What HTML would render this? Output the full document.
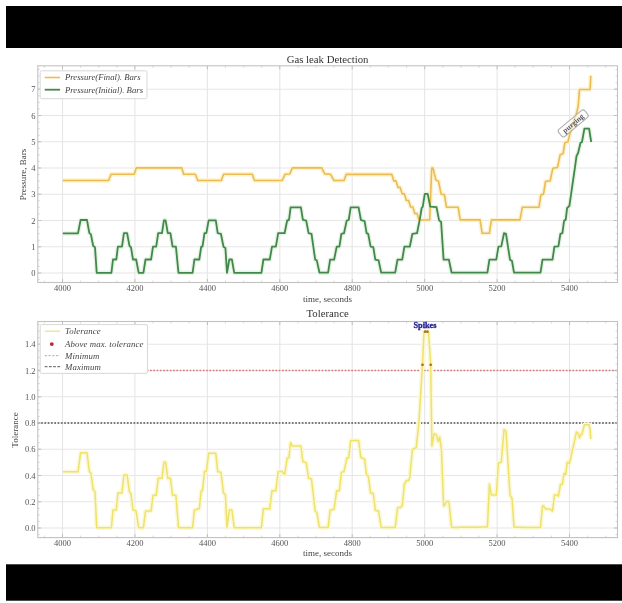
<!DOCTYPE html>
<html><head><meta charset="utf-8"><style>
html,body{margin:0;padding:0;background:#fff;}
svg{display:block;}
text{font-family:"Liberation Serif", serif;fill:#333;}
.grid{stroke:#e6e6e6;stroke-width:1.1;}
.frame{fill:none;stroke:#c2c2c2;stroke-width:1.1;}
.tick{stroke:#b4b4b4;stroke-width:0.8;}
.tickm{stroke:#c8c8c8;stroke-width:0.7;}
.orange{fill:none;stroke:#ebbc52;stroke-width:1.6;stroke-linejoin:round;}
.green{fill:none;stroke:#43884a;stroke-width:1.8;stroke-linejoin:round;}
.tol{fill:none;stroke:#efe26c;stroke-width:1.5;stroke-linejoin:round;}
.maxl{stroke:#555;stroke-width:1.4;stroke-dasharray:1.7 1.6;}
.minl{stroke:#d87878;stroke-width:1.3;stroke-dasharray:1.7 1.6;}
.minleg{stroke:#aaa;stroke-width:1.0;stroke-dasharray:2.2 1.6;}
.maxleg{stroke:#555;stroke-width:1.0;stroke-dasharray:2.8 1.4;}
.halo{fill:none;stroke-width:4.5;stroke-linejoin:round;}
.mk{fill:#c02828;}
.mk2{fill:#b07030;}
.legend{fill:#fff;stroke:#d8d8d8;stroke-width:1;}
.tl{font-size:8.5px;fill:#555;}
.title{font-size:10.75px;fill:#333;}
.al{font-size:9px;fill:#444;}
.lg{font-size:8.8px;font-style:italic;fill:#444;letter-spacing:0.1px;}
.lgt{font-size:8.7px;letter-spacing:0;}
.spk{font-size:8.3px;font-weight:bold;fill:#1c1c90;stroke:#1c1c90;stroke-width:0.3;}
.ann{fill:#fff;fill-opacity:0.5;stroke:#b0b0b0;stroke-width:1.1;}
.annt{font-size:7.5px;fill:#555;font-weight:bold;}
</style></head>
<body><svg width="622" height="603" viewBox="0 0 622 603">
<defs><filter id="bl" x="-5%" y="-5%" width="110%" height="110%"><feGaussianBlur stdDeviation="0.7"/></filter></defs>
<rect width="622" height="603" fill="#fff"/>
<g filter="url(#bl)">
<line x1="62.5" y1="65.8" x2="62.5" y2="282.5" class="grid"/>
<line x1="134.9" y1="65.8" x2="134.9" y2="282.5" class="grid"/>
<line x1="207.4" y1="65.8" x2="207.4" y2="282.5" class="grid"/>
<line x1="279.8" y1="65.8" x2="279.8" y2="282.5" class="grid"/>
<line x1="352.2" y1="65.8" x2="352.2" y2="282.5" class="grid"/>
<line x1="424.7" y1="65.8" x2="424.7" y2="282.5" class="grid"/>
<line x1="497.1" y1="65.8" x2="497.1" y2="282.5" class="grid"/>
<line x1="569.5" y1="65.8" x2="569.5" y2="282.5" class="grid"/>
<line x1="37.8" y1="273.0" x2="617.5" y2="273.0" class="grid"/>
<line x1="37.8" y1="246.8" x2="617.5" y2="246.8" class="grid"/>
<line x1="37.8" y1="220.5" x2="617.5" y2="220.5" class="grid"/>
<line x1="37.8" y1="194.2" x2="617.5" y2="194.2" class="grid"/>
<line x1="37.8" y1="168.0" x2="617.5" y2="168.0" class="grid"/>
<line x1="37.8" y1="141.8" x2="617.5" y2="141.8" class="grid"/>
<line x1="37.8" y1="115.5" x2="617.5" y2="115.5" class="grid"/>
<line x1="37.8" y1="89.2" x2="617.5" y2="89.2" class="grid"/>
<polyline points="62.8,180.5 108.6,180.5 111.1,174.3 134.3,174.3 136.2,167.9 181.8,167.9 183.7,174.3 195.3,174.3 197.8,180.5 221.3,180.5 223.6,174.3 252.2,174.3 254.5,180.5 282.1,180.5 285.0,174.3 289.8,174.0 292.3,167.9 321.8,167.9 324.7,173.9 330.5,174.3 334.0,180.5 344.0,180.5 346.3,174.3 391.8,174.4 393.8,180.9 396.0,180.9 398.0,187.4 400.2,187.4 402.2,193.9 404.4,193.9 406.4,200.5 408.6,200.5 410.6,207.0 412.8,207.0 414.8,213.5 417.0,213.5 419.0,220.0 421.6,220.0 429.7,220.0 431.7,168.0 433.0,168.0 435.8,179.9 438.5,181.2 441.1,194.2 444.4,194.5 446.4,207.1 458.2,207.3 460.2,219.9 480.1,219.9 482.1,233.2 489.4,233.2 491.4,219.9 520.0,219.9 522.3,207.3 538.9,207.3 540.9,194.7 543.5,194.1 545.5,181.5 550.2,180.8 552.8,168.2 557.5,167.5 560.1,154.9 563.1,153.5 564.9,142.5 567.9,142.0 571.0,129.4 574.0,120.0 576.0,115.5 578.2,106.0 579.5,89.5 590.1,89.5 590.8,75.6" class="halo" style="stroke:#fbf3d2"/>
<polyline points="62.8,233.4 78.0,233.4 80.6,220.0 87.0,220.0 89.3,232.9 90.9,234.4 93.2,246.0 95.0,247.3 96.7,272.8 111.4,272.8 113.0,259.5 116.3,259.5 117.9,246.7 122.0,246.7 123.9,233.2 127.1,233.2 129.5,246.0 131.0,247.3 133.0,259.5 136.1,259.5 138.7,272.8 143.4,272.8 145.5,259.5 151.1,259.5 153.0,246.7 156.2,246.7 158.2,233.2 162.0,233.2 163.9,220.3 165.6,220.3 167.8,233.2 170.4,233.2 172.6,246.7 175.9,246.7 178.5,272.8 192.6,272.8 194.4,259.5 199.3,259.5 201.2,246.7 202.5,246.7 204.5,233.2 206.4,233.2 208.6,220.3 215.8,220.3 217.7,233.2 220.9,233.8 223.5,246.7 225.4,248.0 227.0,272.8 229.3,259.5 231.9,259.5 234.2,272.8 261.4,272.8 263.4,259.5 269.8,259.5 272.0,246.7 275.9,246.7 278.2,233.2 284.6,233.2 287.2,220.3 289.0,220.0 290.6,207.3 300.9,207.3 302.9,219.9 306.2,220.6 308.6,233.2 311.5,233.8 315.2,259.7 316.8,260.4 319.5,272.7 328.1,272.7 330.1,259.7 334.1,259.7 336.7,246.7 339.4,246.7 341.4,233.8 344.0,233.2 346.7,220.6 348.7,220.0 350.7,207.3 358.6,207.3 360.9,220.0 364.6,221.2 366.6,233.2 368.2,233.8 370.6,246.7 373.3,247.1 375.3,259.7 378.6,260.4 381.2,272.7 395.2,272.7 397.5,259.7 402.2,259.7 404.4,246.7 409.8,246.7 412.4,233.8 417.0,233.2 419.7,219.9 421.7,208.0 422.8,206.7 424.8,193.8 427.7,193.8 430.2,206.7 436.5,207.1 439.1,220.4 441.1,221.7 443.6,259.7 448.9,259.7 451.6,272.7 487.4,272.7 489.4,259.7 496.3,259.7 498.4,246.7 501.3,246.4 504.0,233.2 506.0,233.8 510.0,259.7 512.0,261.0 514.0,272.7 540.5,272.7 542.5,259.7 552.5,259.7 554.4,246.7 558.4,246.4 560.4,233.8 562.4,233.2 564.1,220.6 565.7,219.9 567.1,208.2 569.4,205.8 575.0,167.2 576.5,156.2 578.1,153.0 580.5,142.8 582.0,142.0 584.4,128.7 589.1,128.7 591.2,142.0" class="halo" style="stroke:#e6f3e6"/>
<polyline points="62.8,180.5 108.6,180.5 111.1,174.3 134.3,174.3 136.2,167.9 181.8,167.9 183.7,174.3 195.3,174.3 197.8,180.5 221.3,180.5 223.6,174.3 252.2,174.3 254.5,180.5 282.1,180.5 285.0,174.3 289.8,174.0 292.3,167.9 321.8,167.9 324.7,173.9 330.5,174.3 334.0,180.5 344.0,180.5 346.3,174.3 391.8,174.4 393.8,180.9 396.0,180.9 398.0,187.4 400.2,187.4 402.2,193.9 404.4,193.9 406.4,200.5 408.6,200.5 410.6,207.0 412.8,207.0 414.8,213.5 417.0,213.5 419.0,220.0 421.6,220.0 429.7,220.0 431.7,168.0 433.0,168.0 435.8,179.9 438.5,181.2 441.1,194.2 444.4,194.5 446.4,207.1 458.2,207.3 460.2,219.9 480.1,219.9 482.1,233.2 489.4,233.2 491.4,219.9 520.0,219.9 522.3,207.3 538.9,207.3 540.9,194.7 543.5,194.1 545.5,181.5 550.2,180.8 552.8,168.2 557.5,167.5 560.1,154.9 563.1,153.5 564.9,142.5 567.9,142.0 571.0,129.4 574.0,120.0 576.0,115.5 578.2,106.0 579.5,89.5 590.1,89.5 590.8,75.6" class="orange"/>
<polyline points="62.8,233.4 78.0,233.4 80.6,220.0 87.0,220.0 89.3,232.9 90.9,234.4 93.2,246.0 95.0,247.3 96.7,272.8 111.4,272.8 113.0,259.5 116.3,259.5 117.9,246.7 122.0,246.7 123.9,233.2 127.1,233.2 129.5,246.0 131.0,247.3 133.0,259.5 136.1,259.5 138.7,272.8 143.4,272.8 145.5,259.5 151.1,259.5 153.0,246.7 156.2,246.7 158.2,233.2 162.0,233.2 163.9,220.3 165.6,220.3 167.8,233.2 170.4,233.2 172.6,246.7 175.9,246.7 178.5,272.8 192.6,272.8 194.4,259.5 199.3,259.5 201.2,246.7 202.5,246.7 204.5,233.2 206.4,233.2 208.6,220.3 215.8,220.3 217.7,233.2 220.9,233.8 223.5,246.7 225.4,248.0 227.0,272.8 229.3,259.5 231.9,259.5 234.2,272.8 261.4,272.8 263.4,259.5 269.8,259.5 272.0,246.7 275.9,246.7 278.2,233.2 284.6,233.2 287.2,220.3 289.0,220.0 290.6,207.3 300.9,207.3 302.9,219.9 306.2,220.6 308.6,233.2 311.5,233.8 315.2,259.7 316.8,260.4 319.5,272.7 328.1,272.7 330.1,259.7 334.1,259.7 336.7,246.7 339.4,246.7 341.4,233.8 344.0,233.2 346.7,220.6 348.7,220.0 350.7,207.3 358.6,207.3 360.9,220.0 364.6,221.2 366.6,233.2 368.2,233.8 370.6,246.7 373.3,247.1 375.3,259.7 378.6,260.4 381.2,272.7 395.2,272.7 397.5,259.7 402.2,259.7 404.4,246.7 409.8,246.7 412.4,233.8 417.0,233.2 419.7,219.9 421.7,208.0 422.8,206.7 424.8,193.8 427.7,193.8 430.2,206.7 436.5,207.1 439.1,220.4 441.1,221.7 443.6,259.7 448.9,259.7 451.6,272.7 487.4,272.7 489.4,259.7 496.3,259.7 498.4,246.7 501.3,246.4 504.0,233.2 506.0,233.8 510.0,259.7 512.0,261.0 514.0,272.7 540.5,272.7 542.5,259.7 552.5,259.7 554.4,246.7 558.4,246.4 560.4,233.8 562.4,233.2 564.1,220.6 565.7,219.9 567.1,208.2 569.4,205.8 575.0,167.2 576.5,156.2 578.1,153.0 580.5,142.8 582.0,142.0 584.4,128.7 589.1,128.7 591.2,142.0" class="green"/>
<line x1="62.5" y1="282.5" x2="62.5" y2="279.0" class="tick"/>
<line x1="62.5" y1="65.8" x2="62.5" y2="69.3" class="tick"/>
<line x1="134.9" y1="282.5" x2="134.9" y2="279.0" class="tick"/>
<line x1="134.9" y1="65.8" x2="134.9" y2="69.3" class="tick"/>
<line x1="207.4" y1="282.5" x2="207.4" y2="279.0" class="tick"/>
<line x1="207.4" y1="65.8" x2="207.4" y2="69.3" class="tick"/>
<line x1="279.8" y1="282.5" x2="279.8" y2="279.0" class="tick"/>
<line x1="279.8" y1="65.8" x2="279.8" y2="69.3" class="tick"/>
<line x1="352.2" y1="282.5" x2="352.2" y2="279.0" class="tick"/>
<line x1="352.2" y1="65.8" x2="352.2" y2="69.3" class="tick"/>
<line x1="424.7" y1="282.5" x2="424.7" y2="279.0" class="tick"/>
<line x1="424.7" y1="65.8" x2="424.7" y2="69.3" class="tick"/>
<line x1="497.1" y1="282.5" x2="497.1" y2="279.0" class="tick"/>
<line x1="497.1" y1="65.8" x2="497.1" y2="69.3" class="tick"/>
<line x1="569.5" y1="282.5" x2="569.5" y2="279.0" class="tick"/>
<line x1="569.5" y1="65.8" x2="569.5" y2="69.3" class="tick"/>
<line x1="44.4" y1="282.5" x2="44.4" y2="280.5" class="tickm"/>
<line x1="44.4" y1="65.8" x2="44.4" y2="67.8" class="tickm"/>
<line x1="80.6" y1="282.5" x2="80.6" y2="280.5" class="tickm"/>
<line x1="80.6" y1="65.8" x2="80.6" y2="67.8" class="tickm"/>
<line x1="98.7" y1="282.5" x2="98.7" y2="280.5" class="tickm"/>
<line x1="98.7" y1="65.8" x2="98.7" y2="67.8" class="tickm"/>
<line x1="116.8" y1="282.5" x2="116.8" y2="280.5" class="tickm"/>
<line x1="116.8" y1="65.8" x2="116.8" y2="67.8" class="tickm"/>
<line x1="153.0" y1="282.5" x2="153.0" y2="280.5" class="tickm"/>
<line x1="153.0" y1="65.8" x2="153.0" y2="67.8" class="tickm"/>
<line x1="171.1" y1="282.5" x2="171.1" y2="280.5" class="tickm"/>
<line x1="171.1" y1="65.8" x2="171.1" y2="67.8" class="tickm"/>
<line x1="189.3" y1="282.5" x2="189.3" y2="280.5" class="tickm"/>
<line x1="189.3" y1="65.8" x2="189.3" y2="67.8" class="tickm"/>
<line x1="225.5" y1="282.5" x2="225.5" y2="280.5" class="tickm"/>
<line x1="225.5" y1="65.8" x2="225.5" y2="67.8" class="tickm"/>
<line x1="243.6" y1="282.5" x2="243.6" y2="280.5" class="tickm"/>
<line x1="243.6" y1="65.8" x2="243.6" y2="67.8" class="tickm"/>
<line x1="261.7" y1="282.5" x2="261.7" y2="280.5" class="tickm"/>
<line x1="261.7" y1="65.8" x2="261.7" y2="67.8" class="tickm"/>
<line x1="297.9" y1="282.5" x2="297.9" y2="280.5" class="tickm"/>
<line x1="297.9" y1="65.8" x2="297.9" y2="67.8" class="tickm"/>
<line x1="316.0" y1="282.5" x2="316.0" y2="280.5" class="tickm"/>
<line x1="316.0" y1="65.8" x2="316.0" y2="67.8" class="tickm"/>
<line x1="334.1" y1="282.5" x2="334.1" y2="280.5" class="tickm"/>
<line x1="334.1" y1="65.8" x2="334.1" y2="67.8" class="tickm"/>
<line x1="370.3" y1="282.5" x2="370.3" y2="280.5" class="tickm"/>
<line x1="370.3" y1="65.8" x2="370.3" y2="67.8" class="tickm"/>
<line x1="388.4" y1="282.5" x2="388.4" y2="280.5" class="tickm"/>
<line x1="388.4" y1="65.8" x2="388.4" y2="67.8" class="tickm"/>
<line x1="406.5" y1="282.5" x2="406.5" y2="280.5" class="tickm"/>
<line x1="406.5" y1="65.8" x2="406.5" y2="67.8" class="tickm"/>
<line x1="442.8" y1="282.5" x2="442.8" y2="280.5" class="tickm"/>
<line x1="442.8" y1="65.8" x2="442.8" y2="67.8" class="tickm"/>
<line x1="460.9" y1="282.5" x2="460.9" y2="280.5" class="tickm"/>
<line x1="460.9" y1="65.8" x2="460.9" y2="67.8" class="tickm"/>
<line x1="479.0" y1="282.5" x2="479.0" y2="280.5" class="tickm"/>
<line x1="479.0" y1="65.8" x2="479.0" y2="67.8" class="tickm"/>
<line x1="515.2" y1="282.5" x2="515.2" y2="280.5" class="tickm"/>
<line x1="515.2" y1="65.8" x2="515.2" y2="67.8" class="tickm"/>
<line x1="533.3" y1="282.5" x2="533.3" y2="280.5" class="tickm"/>
<line x1="533.3" y1="65.8" x2="533.3" y2="67.8" class="tickm"/>
<line x1="551.4" y1="282.5" x2="551.4" y2="280.5" class="tickm"/>
<line x1="551.4" y1="65.8" x2="551.4" y2="67.8" class="tickm"/>
<line x1="587.6" y1="282.5" x2="587.6" y2="280.5" class="tickm"/>
<line x1="587.6" y1="65.8" x2="587.6" y2="67.8" class="tickm"/>
<line x1="605.7" y1="282.5" x2="605.7" y2="280.5" class="tickm"/>
<line x1="605.7" y1="65.8" x2="605.7" y2="67.8" class="tickm"/>
<line x1="37.8" y1="273.0" x2="41.3" y2="273.0" class="tick"/>
<line x1="617.5" y1="273.0" x2="614.0" y2="273.0" class="tick"/>
<line x1="37.8" y1="246.8" x2="41.3" y2="246.8" class="tick"/>
<line x1="617.5" y1="246.8" x2="614.0" y2="246.8" class="tick"/>
<line x1="37.8" y1="220.5" x2="41.3" y2="220.5" class="tick"/>
<line x1="617.5" y1="220.5" x2="614.0" y2="220.5" class="tick"/>
<line x1="37.8" y1="194.2" x2="41.3" y2="194.2" class="tick"/>
<line x1="617.5" y1="194.2" x2="614.0" y2="194.2" class="tick"/>
<line x1="37.8" y1="168.0" x2="41.3" y2="168.0" class="tick"/>
<line x1="617.5" y1="168.0" x2="614.0" y2="168.0" class="tick"/>
<line x1="37.8" y1="141.8" x2="41.3" y2="141.8" class="tick"/>
<line x1="617.5" y1="141.8" x2="614.0" y2="141.8" class="tick"/>
<line x1="37.8" y1="115.5" x2="41.3" y2="115.5" class="tick"/>
<line x1="617.5" y1="115.5" x2="614.0" y2="115.5" class="tick"/>
<line x1="37.8" y1="89.2" x2="41.3" y2="89.2" class="tick"/>
<line x1="617.5" y1="89.2" x2="614.0" y2="89.2" class="tick"/>
<line x1="37.8" y1="279.6" x2="39.8" y2="279.6" class="tickm"/>
<line x1="617.5" y1="279.6" x2="615.5" y2="279.6" class="tickm"/>
<line x1="37.8" y1="273.0" x2="39.8" y2="273.0" class="tickm"/>
<line x1="617.5" y1="273.0" x2="615.5" y2="273.0" class="tickm"/>
<line x1="37.8" y1="266.4" x2="39.8" y2="266.4" class="tickm"/>
<line x1="617.5" y1="266.4" x2="615.5" y2="266.4" class="tickm"/>
<line x1="37.8" y1="259.9" x2="39.8" y2="259.9" class="tickm"/>
<line x1="617.5" y1="259.9" x2="615.5" y2="259.9" class="tickm"/>
<line x1="37.8" y1="253.3" x2="39.8" y2="253.3" class="tickm"/>
<line x1="617.5" y1="253.3" x2="615.5" y2="253.3" class="tickm"/>
<line x1="37.8" y1="246.8" x2="39.8" y2="246.8" class="tickm"/>
<line x1="617.5" y1="246.8" x2="615.5" y2="246.8" class="tickm"/>
<line x1="37.8" y1="240.2" x2="39.8" y2="240.2" class="tickm"/>
<line x1="617.5" y1="240.2" x2="615.5" y2="240.2" class="tickm"/>
<line x1="37.8" y1="233.6" x2="39.8" y2="233.6" class="tickm"/>
<line x1="617.5" y1="233.6" x2="615.5" y2="233.6" class="tickm"/>
<line x1="37.8" y1="227.1" x2="39.8" y2="227.1" class="tickm"/>
<line x1="617.5" y1="227.1" x2="615.5" y2="227.1" class="tickm"/>
<line x1="37.8" y1="220.5" x2="39.8" y2="220.5" class="tickm"/>
<line x1="617.5" y1="220.5" x2="615.5" y2="220.5" class="tickm"/>
<line x1="37.8" y1="213.9" x2="39.8" y2="213.9" class="tickm"/>
<line x1="617.5" y1="213.9" x2="615.5" y2="213.9" class="tickm"/>
<line x1="37.8" y1="207.4" x2="39.8" y2="207.4" class="tickm"/>
<line x1="617.5" y1="207.4" x2="615.5" y2="207.4" class="tickm"/>
<line x1="37.8" y1="200.8" x2="39.8" y2="200.8" class="tickm"/>
<line x1="617.5" y1="200.8" x2="615.5" y2="200.8" class="tickm"/>
<line x1="37.8" y1="194.2" x2="39.8" y2="194.2" class="tickm"/>
<line x1="617.5" y1="194.2" x2="615.5" y2="194.2" class="tickm"/>
<line x1="37.8" y1="187.7" x2="39.8" y2="187.7" class="tickm"/>
<line x1="617.5" y1="187.7" x2="615.5" y2="187.7" class="tickm"/>
<line x1="37.8" y1="181.1" x2="39.8" y2="181.1" class="tickm"/>
<line x1="617.5" y1="181.1" x2="615.5" y2="181.1" class="tickm"/>
<line x1="37.8" y1="174.6" x2="39.8" y2="174.6" class="tickm"/>
<line x1="617.5" y1="174.6" x2="615.5" y2="174.6" class="tickm"/>
<line x1="37.8" y1="168.0" x2="39.8" y2="168.0" class="tickm"/>
<line x1="617.5" y1="168.0" x2="615.5" y2="168.0" class="tickm"/>
<line x1="37.8" y1="161.4" x2="39.8" y2="161.4" class="tickm"/>
<line x1="617.5" y1="161.4" x2="615.5" y2="161.4" class="tickm"/>
<line x1="37.8" y1="154.9" x2="39.8" y2="154.9" class="tickm"/>
<line x1="617.5" y1="154.9" x2="615.5" y2="154.9" class="tickm"/>
<line x1="37.8" y1="148.3" x2="39.8" y2="148.3" class="tickm"/>
<line x1="617.5" y1="148.3" x2="615.5" y2="148.3" class="tickm"/>
<line x1="37.8" y1="141.8" x2="39.8" y2="141.8" class="tickm"/>
<line x1="617.5" y1="141.8" x2="615.5" y2="141.8" class="tickm"/>
<line x1="37.8" y1="135.2" x2="39.8" y2="135.2" class="tickm"/>
<line x1="617.5" y1="135.2" x2="615.5" y2="135.2" class="tickm"/>
<line x1="37.8" y1="128.6" x2="39.8" y2="128.6" class="tickm"/>
<line x1="617.5" y1="128.6" x2="615.5" y2="128.6" class="tickm"/>
<line x1="37.8" y1="122.1" x2="39.8" y2="122.1" class="tickm"/>
<line x1="617.5" y1="122.1" x2="615.5" y2="122.1" class="tickm"/>
<line x1="37.8" y1="115.5" x2="39.8" y2="115.5" class="tickm"/>
<line x1="617.5" y1="115.5" x2="615.5" y2="115.5" class="tickm"/>
<line x1="37.8" y1="108.9" x2="39.8" y2="108.9" class="tickm"/>
<line x1="617.5" y1="108.9" x2="615.5" y2="108.9" class="tickm"/>
<line x1="37.8" y1="102.4" x2="39.8" y2="102.4" class="tickm"/>
<line x1="617.5" y1="102.4" x2="615.5" y2="102.4" class="tickm"/>
<line x1="37.8" y1="95.8" x2="39.8" y2="95.8" class="tickm"/>
<line x1="617.5" y1="95.8" x2="615.5" y2="95.8" class="tickm"/>
<line x1="37.8" y1="89.2" x2="39.8" y2="89.2" class="tickm"/>
<line x1="617.5" y1="89.2" x2="615.5" y2="89.2" class="tickm"/>
<line x1="37.8" y1="82.7" x2="39.8" y2="82.7" class="tickm"/>
<line x1="617.5" y1="82.7" x2="615.5" y2="82.7" class="tickm"/>
<line x1="37.8" y1="76.1" x2="39.8" y2="76.1" class="tickm"/>
<line x1="617.5" y1="76.1" x2="615.5" y2="76.1" class="tickm"/>
<line x1="37.8" y1="69.6" x2="39.8" y2="69.6" class="tickm"/>
<line x1="617.5" y1="69.6" x2="615.5" y2="69.6" class="tickm"/>
<rect x="37.8" y="65.8" width="579.7" height="216.7" class="frame"/>
<text x="35.6" y="276.0" class="tl" text-anchor="end">0</text>
<text x="35.6" y="249.8" class="tl" text-anchor="end">1</text>
<text x="35.6" y="223.5" class="tl" text-anchor="end">2</text>
<text x="35.6" y="197.2" class="tl" text-anchor="end">3</text>
<text x="35.6" y="171.0" class="tl" text-anchor="end">4</text>
<text x="35.6" y="144.8" class="tl" text-anchor="end">5</text>
<text x="35.6" y="118.5" class="tl" text-anchor="end">6</text>
<text x="35.6" y="92.2" class="tl" text-anchor="end">7</text>
<text x="62.5" y="291.1" class="tl" text-anchor="middle">4000</text>
<text x="134.9" y="291.1" class="tl" text-anchor="middle">4200</text>
<text x="207.4" y="291.1" class="tl" text-anchor="middle">4400</text>
<text x="279.8" y="291.1" class="tl" text-anchor="middle">4600</text>
<text x="352.2" y="291.1" class="tl" text-anchor="middle">4800</text>
<text x="424.7" y="291.1" class="tl" text-anchor="middle">5000</text>
<text x="497.1" y="291.1" class="tl" text-anchor="middle">5200</text>
<text x="569.5" y="291.1" class="tl" text-anchor="middle">5400</text>
<text x="327.6" y="62.8" class="title" text-anchor="middle">Gas leak Detection</text>
<text x="327.6" y="301.6" class="al" text-anchor="middle">time, seconds</text>
<text transform="translate(25.6,174.5) rotate(-90)" class="al" text-anchor="middle">Pressure, Bars</text>
<rect x="40.2" y="70.8" width="106.8" height="27.9" rx="1.5" class="legend"/>
<line x1="44.7" y1="77.5" x2="60.1" y2="77.5" class="orange"/>
<line x1="44.7" y1="89.7" x2="60.1" y2="89.7" class="green"/>
<text x="65" y="80.3" class="lg lgt">Pressure(Final). Bars</text>
<text x="65" y="92.5" class="lg lgt">Pressure(Initial). Bars</text>
<g transform="translate(573.2,123.4) rotate(-40)"><rect x="-17" y="-4.6" width="34" height="9.2" rx="2.5" class="ann"/><text x="0" y="2.4" class="annt" text-anchor="middle">purging</text></g>
<line x1="62.5" y1="321.5" x2="62.5" y2="537.6" class="grid"/>
<line x1="134.9" y1="321.5" x2="134.9" y2="537.6" class="grid"/>
<line x1="207.4" y1="321.5" x2="207.4" y2="537.6" class="grid"/>
<line x1="279.8" y1="321.5" x2="279.8" y2="537.6" class="grid"/>
<line x1="352.2" y1="321.5" x2="352.2" y2="537.6" class="grid"/>
<line x1="424.7" y1="321.5" x2="424.7" y2="537.6" class="grid"/>
<line x1="497.1" y1="321.5" x2="497.1" y2="537.6" class="grid"/>
<line x1="569.5" y1="321.5" x2="569.5" y2="537.6" class="grid"/>
<line x1="37.8" y1="528.0" x2="617.5" y2="528.0" class="grid"/>
<line x1="37.8" y1="501.8" x2="617.5" y2="501.8" class="grid"/>
<line x1="37.8" y1="475.5" x2="617.5" y2="475.5" class="grid"/>
<line x1="37.8" y1="449.2" x2="617.5" y2="449.2" class="grid"/>
<line x1="37.8" y1="423.0" x2="617.5" y2="423.0" class="grid"/>
<line x1="37.8" y1="396.8" x2="617.5" y2="396.8" class="grid"/>
<line x1="37.8" y1="370.5" x2="617.5" y2="370.5" class="grid"/>
<line x1="37.8" y1="344.2" x2="617.5" y2="344.2" class="grid"/>
<line x1="37.8" y1="423.0" x2="617.5" y2="423.0" class="maxl"/>
<line x1="37.8" y1="370.5" x2="617.5" y2="370.5" class="minl"/>
<polyline points="62.8,471.8 78.0,471.8 80.6,452.8 87.0,452.8 89.3,471.1 90.9,473.2 93.2,489.7 95.0,491.5 96.7,527.7 108.6,527.7 111.1,527.7 111.4,527.7 113.0,510.0 116.3,510.0 117.9,493.0 122.0,493.0 123.9,475.1 127.1,475.1 129.5,492.1 131.0,493.8 133.0,510.0 134.3,510.0 136.1,511.1 136.2,511.8 138.7,527.8 143.4,527.8 145.5,511.1 151.1,511.1 153.0,495.2 156.2,495.2 158.2,478.3 162.0,478.3 163.9,462.2 165.6,462.2 167.8,478.3 170.4,478.3 172.6,495.2 175.9,495.2 178.5,527.8 181.8,527.8 183.7,527.7 192.6,527.7 194.4,510.0 195.3,510.0 197.8,508.8 199.3,508.8 201.2,490.7 202.5,490.7 204.5,471.5 206.4,471.5 208.6,453.2 215.8,453.2 217.7,471.5 220.9,472.4 221.3,475.2 223.5,492.9 223.6,493.1 225.4,494.8 227.0,527.7 229.3,510.0 231.9,510.0 234.2,527.7 252.2,527.7 254.5,527.7 261.4,527.7 263.4,508.8 269.8,508.8 272.0,490.7 275.9,490.7 278.2,471.5 282.1,471.5 284.6,474.6 285.0,472.4 287.2,458.0 289.0,457.7 289.8,449.3 290.6,442.6 292.3,446.0 300.9,446.0 302.9,461.7 306.2,462.6 308.6,478.3 311.5,479.0 315.2,511.4 316.8,512.3 319.5,527.6 321.8,527.6 324.7,527.6 328.1,527.6 330.1,510.3 330.5,510.3 334.0,509.1 334.1,509.1 336.7,490.7 339.4,490.7 341.4,472.4 344.0,471.5 346.3,460.8 346.7,458.3 348.7,457.5 350.7,440.6 358.6,440.6 360.9,457.5 364.6,459.1 366.6,475.1 368.2,475.8 370.6,493.0 373.3,493.5 375.3,510.3 378.6,511.2 381.2,527.6 391.8,527.6 393.8,527.6 395.2,527.6 396.0,521.1 397.5,508.0 398.0,507.6 400.2,507.6 402.2,505.9 404.4,484.4 406.4,480.4 408.6,480.4 409.8,477.7 410.6,467.8 412.4,450.0 412.8,449.2 416.2,447.7 418.9,422.4 422.5,364.8 424.0,331.7 428.5,331.7 430.7,364.8 431.9,445.9 434.1,433.6 436.3,434.7 438.1,441.4 439.7,436.9 441.5,450.4 443.6,505.8 444.4,505.8 446.4,501.5 448.9,501.5 451.6,527.4 458.2,527.4 460.2,527.3 480.1,527.3 482.1,527.0 487.4,527.0 489.4,484.1 491.4,495.1 496.3,495.1 498.4,463.0 501.3,462.3 504.0,429.6 506.0,431.1 510.0,495.1 512.0,498.3 514.0,527.3 520.0,527.3 522.3,527.4 538.9,527.4 540.5,527.5 540.9,523.1 542.5,505.8 543.5,505.9 545.5,508.9 550.2,509.1 552.5,511.1 552.8,508.8 554.4,495.1 557.5,495.0 558.4,496.2 560.1,486.5 560.4,484.5 562.4,484.2 563.1,478.6 564.1,473.2 564.9,474.9 565.7,474.6 567.1,463.0 567.9,462.2 569.4,463.7 571.0,456.5 574.0,443.2 575.0,438.6 576.0,433.7 576.5,432.0 578.1,433.4 578.2,433.4 579.5,437.9 580.5,434.9 582.0,434.3 584.4,424.8 589.1,424.8 590.1,429.3 590.8,439.2" class="halo" style="stroke:#fbf8d6"/>
<polyline points="62.8,471.8 78.0,471.8 80.6,452.8 87.0,452.8 89.3,471.1 90.9,473.2 93.2,489.7 95.0,491.5 96.7,527.7 108.6,527.7 111.1,527.7 111.4,527.7 113.0,510.0 116.3,510.0 117.9,493.0 122.0,493.0 123.9,475.1 127.1,475.1 129.5,492.1 131.0,493.8 133.0,510.0 134.3,510.0 136.1,511.1 136.2,511.8 138.7,527.8 143.4,527.8 145.5,511.1 151.1,511.1 153.0,495.2 156.2,495.2 158.2,478.3 162.0,478.3 163.9,462.2 165.6,462.2 167.8,478.3 170.4,478.3 172.6,495.2 175.9,495.2 178.5,527.8 181.8,527.8 183.7,527.7 192.6,527.7 194.4,510.0 195.3,510.0 197.8,508.8 199.3,508.8 201.2,490.7 202.5,490.7 204.5,471.5 206.4,471.5 208.6,453.2 215.8,453.2 217.7,471.5 220.9,472.4 221.3,475.2 223.5,492.9 223.6,493.1 225.4,494.8 227.0,527.7 229.3,510.0 231.9,510.0 234.2,527.7 252.2,527.7 254.5,527.7 261.4,527.7 263.4,508.8 269.8,508.8 272.0,490.7 275.9,490.7 278.2,471.5 282.1,471.5 284.6,474.6 285.0,472.4 287.2,458.0 289.0,457.7 289.8,449.3 290.6,442.6 292.3,446.0 300.9,446.0 302.9,461.7 306.2,462.6 308.6,478.3 311.5,479.0 315.2,511.4 316.8,512.3 319.5,527.6 321.8,527.6 324.7,527.6 328.1,527.6 330.1,510.3 330.5,510.3 334.0,509.1 334.1,509.1 336.7,490.7 339.4,490.7 341.4,472.4 344.0,471.5 346.3,460.8 346.7,458.3 348.7,457.5 350.7,440.6 358.6,440.6 360.9,457.5 364.6,459.1 366.6,475.1 368.2,475.8 370.6,493.0 373.3,493.5 375.3,510.3 378.6,511.2 381.2,527.6 391.8,527.6 393.8,527.6 395.2,527.6 396.0,521.1 397.5,508.0 398.0,507.6 400.2,507.6 402.2,505.9 404.4,484.4 406.4,480.4 408.6,480.4 409.8,477.7 410.6,467.8 412.4,450.0 412.8,449.2 416.2,447.7 418.9,422.4 422.5,364.8 424.0,331.7 428.5,331.7 430.7,364.8 431.9,445.9 434.1,433.6 436.3,434.7 438.1,441.4 439.7,436.9 441.5,450.4 443.6,505.8 444.4,505.8 446.4,501.5 448.9,501.5 451.6,527.4 458.2,527.4 460.2,527.3 480.1,527.3 482.1,527.0 487.4,527.0 489.4,484.1 491.4,495.1 496.3,495.1 498.4,463.0 501.3,462.3 504.0,429.6 506.0,431.1 510.0,495.1 512.0,498.3 514.0,527.3 520.0,527.3 522.3,527.4 538.9,527.4 540.5,527.5 540.9,523.1 542.5,505.8 543.5,505.9 545.5,508.9 550.2,509.1 552.5,511.1 552.8,508.8 554.4,495.1 557.5,495.0 558.4,496.2 560.1,486.5 560.4,484.5 562.4,484.2 563.1,478.6 564.1,473.2 564.9,474.9 565.7,474.6 567.1,463.0 567.9,462.2 569.4,463.7 571.0,456.5 574.0,443.2 575.0,438.6 576.0,433.7 576.5,432.0 578.1,433.4 578.2,433.4 579.5,437.9 580.5,434.9 582.0,434.3 584.4,424.8 589.1,424.8 590.1,429.3 590.8,439.2" class="tol"/>
<circle cx="422.5" cy="364.8" r="1.4" class="mk2"/>
<circle cx="425.2" cy="331.7" r="1.4" class="mk2"/>
<circle cx="427.4" cy="331.7" r="1.4" class="mk2"/>
<circle cx="430.7" cy="364.8" r="1.4" class="mk2"/>
<line x1="62.5" y1="537.6" x2="62.5" y2="534.1" class="tick"/>
<line x1="62.5" y1="321.5" x2="62.5" y2="325.0" class="tick"/>
<line x1="134.9" y1="537.6" x2="134.9" y2="534.1" class="tick"/>
<line x1="134.9" y1="321.5" x2="134.9" y2="325.0" class="tick"/>
<line x1="207.4" y1="537.6" x2="207.4" y2="534.1" class="tick"/>
<line x1="207.4" y1="321.5" x2="207.4" y2="325.0" class="tick"/>
<line x1="279.8" y1="537.6" x2="279.8" y2="534.1" class="tick"/>
<line x1="279.8" y1="321.5" x2="279.8" y2="325.0" class="tick"/>
<line x1="352.2" y1="537.6" x2="352.2" y2="534.1" class="tick"/>
<line x1="352.2" y1="321.5" x2="352.2" y2="325.0" class="tick"/>
<line x1="424.7" y1="537.6" x2="424.7" y2="534.1" class="tick"/>
<line x1="424.7" y1="321.5" x2="424.7" y2="325.0" class="tick"/>
<line x1="497.1" y1="537.6" x2="497.1" y2="534.1" class="tick"/>
<line x1="497.1" y1="321.5" x2="497.1" y2="325.0" class="tick"/>
<line x1="569.5" y1="537.6" x2="569.5" y2="534.1" class="tick"/>
<line x1="569.5" y1="321.5" x2="569.5" y2="325.0" class="tick"/>
<line x1="44.4" y1="537.6" x2="44.4" y2="535.6" class="tickm"/>
<line x1="44.4" y1="321.5" x2="44.4" y2="323.5" class="tickm"/>
<line x1="80.6" y1="537.6" x2="80.6" y2="535.6" class="tickm"/>
<line x1="80.6" y1="321.5" x2="80.6" y2="323.5" class="tickm"/>
<line x1="98.7" y1="537.6" x2="98.7" y2="535.6" class="tickm"/>
<line x1="98.7" y1="321.5" x2="98.7" y2="323.5" class="tickm"/>
<line x1="116.8" y1="537.6" x2="116.8" y2="535.6" class="tickm"/>
<line x1="116.8" y1="321.5" x2="116.8" y2="323.5" class="tickm"/>
<line x1="153.0" y1="537.6" x2="153.0" y2="535.6" class="tickm"/>
<line x1="153.0" y1="321.5" x2="153.0" y2="323.5" class="tickm"/>
<line x1="171.1" y1="537.6" x2="171.1" y2="535.6" class="tickm"/>
<line x1="171.1" y1="321.5" x2="171.1" y2="323.5" class="tickm"/>
<line x1="189.3" y1="537.6" x2="189.3" y2="535.6" class="tickm"/>
<line x1="189.3" y1="321.5" x2="189.3" y2="323.5" class="tickm"/>
<line x1="225.5" y1="537.6" x2="225.5" y2="535.6" class="tickm"/>
<line x1="225.5" y1="321.5" x2="225.5" y2="323.5" class="tickm"/>
<line x1="243.6" y1="537.6" x2="243.6" y2="535.6" class="tickm"/>
<line x1="243.6" y1="321.5" x2="243.6" y2="323.5" class="tickm"/>
<line x1="261.7" y1="537.6" x2="261.7" y2="535.6" class="tickm"/>
<line x1="261.7" y1="321.5" x2="261.7" y2="323.5" class="tickm"/>
<line x1="297.9" y1="537.6" x2="297.9" y2="535.6" class="tickm"/>
<line x1="297.9" y1="321.5" x2="297.9" y2="323.5" class="tickm"/>
<line x1="316.0" y1="537.6" x2="316.0" y2="535.6" class="tickm"/>
<line x1="316.0" y1="321.5" x2="316.0" y2="323.5" class="tickm"/>
<line x1="334.1" y1="537.6" x2="334.1" y2="535.6" class="tickm"/>
<line x1="334.1" y1="321.5" x2="334.1" y2="323.5" class="tickm"/>
<line x1="370.3" y1="537.6" x2="370.3" y2="535.6" class="tickm"/>
<line x1="370.3" y1="321.5" x2="370.3" y2="323.5" class="tickm"/>
<line x1="388.4" y1="537.6" x2="388.4" y2="535.6" class="tickm"/>
<line x1="388.4" y1="321.5" x2="388.4" y2="323.5" class="tickm"/>
<line x1="406.5" y1="537.6" x2="406.5" y2="535.6" class="tickm"/>
<line x1="406.5" y1="321.5" x2="406.5" y2="323.5" class="tickm"/>
<line x1="442.8" y1="537.6" x2="442.8" y2="535.6" class="tickm"/>
<line x1="442.8" y1="321.5" x2="442.8" y2="323.5" class="tickm"/>
<line x1="460.9" y1="537.6" x2="460.9" y2="535.6" class="tickm"/>
<line x1="460.9" y1="321.5" x2="460.9" y2="323.5" class="tickm"/>
<line x1="479.0" y1="537.6" x2="479.0" y2="535.6" class="tickm"/>
<line x1="479.0" y1="321.5" x2="479.0" y2="323.5" class="tickm"/>
<line x1="515.2" y1="537.6" x2="515.2" y2="535.6" class="tickm"/>
<line x1="515.2" y1="321.5" x2="515.2" y2="323.5" class="tickm"/>
<line x1="533.3" y1="537.6" x2="533.3" y2="535.6" class="tickm"/>
<line x1="533.3" y1="321.5" x2="533.3" y2="323.5" class="tickm"/>
<line x1="551.4" y1="537.6" x2="551.4" y2="535.6" class="tickm"/>
<line x1="551.4" y1="321.5" x2="551.4" y2="323.5" class="tickm"/>
<line x1="587.6" y1="537.6" x2="587.6" y2="535.6" class="tickm"/>
<line x1="587.6" y1="321.5" x2="587.6" y2="323.5" class="tickm"/>
<line x1="605.7" y1="537.6" x2="605.7" y2="535.6" class="tickm"/>
<line x1="605.7" y1="321.5" x2="605.7" y2="323.5" class="tickm"/>
<line x1="37.8" y1="528.0" x2="41.3" y2="528.0" class="tick"/>
<line x1="617.5" y1="528.0" x2="614.0" y2="528.0" class="tick"/>
<line x1="37.8" y1="501.8" x2="41.3" y2="501.8" class="tick"/>
<line x1="617.5" y1="501.8" x2="614.0" y2="501.8" class="tick"/>
<line x1="37.8" y1="475.5" x2="41.3" y2="475.5" class="tick"/>
<line x1="617.5" y1="475.5" x2="614.0" y2="475.5" class="tick"/>
<line x1="37.8" y1="449.2" x2="41.3" y2="449.2" class="tick"/>
<line x1="617.5" y1="449.2" x2="614.0" y2="449.2" class="tick"/>
<line x1="37.8" y1="423.0" x2="41.3" y2="423.0" class="tick"/>
<line x1="617.5" y1="423.0" x2="614.0" y2="423.0" class="tick"/>
<line x1="37.8" y1="396.8" x2="41.3" y2="396.8" class="tick"/>
<line x1="617.5" y1="396.8" x2="614.0" y2="396.8" class="tick"/>
<line x1="37.8" y1="370.5" x2="41.3" y2="370.5" class="tick"/>
<line x1="617.5" y1="370.5" x2="614.0" y2="370.5" class="tick"/>
<line x1="37.8" y1="344.2" x2="41.3" y2="344.2" class="tick"/>
<line x1="617.5" y1="344.2" x2="614.0" y2="344.2" class="tick"/>
<line x1="37.8" y1="534.6" x2="39.8" y2="534.6" class="tickm"/>
<line x1="617.5" y1="534.6" x2="615.5" y2="534.6" class="tickm"/>
<line x1="37.8" y1="528.0" x2="39.8" y2="528.0" class="tickm"/>
<line x1="617.5" y1="528.0" x2="615.5" y2="528.0" class="tickm"/>
<line x1="37.8" y1="521.4" x2="39.8" y2="521.4" class="tickm"/>
<line x1="617.5" y1="521.4" x2="615.5" y2="521.4" class="tickm"/>
<line x1="37.8" y1="514.9" x2="39.8" y2="514.9" class="tickm"/>
<line x1="617.5" y1="514.9" x2="615.5" y2="514.9" class="tickm"/>
<line x1="37.8" y1="508.3" x2="39.8" y2="508.3" class="tickm"/>
<line x1="617.5" y1="508.3" x2="615.5" y2="508.3" class="tickm"/>
<line x1="37.8" y1="501.8" x2="39.8" y2="501.8" class="tickm"/>
<line x1="617.5" y1="501.8" x2="615.5" y2="501.8" class="tickm"/>
<line x1="37.8" y1="495.2" x2="39.8" y2="495.2" class="tickm"/>
<line x1="617.5" y1="495.2" x2="615.5" y2="495.2" class="tickm"/>
<line x1="37.8" y1="488.6" x2="39.8" y2="488.6" class="tickm"/>
<line x1="617.5" y1="488.6" x2="615.5" y2="488.6" class="tickm"/>
<line x1="37.8" y1="482.1" x2="39.8" y2="482.1" class="tickm"/>
<line x1="617.5" y1="482.1" x2="615.5" y2="482.1" class="tickm"/>
<line x1="37.8" y1="475.5" x2="39.8" y2="475.5" class="tickm"/>
<line x1="617.5" y1="475.5" x2="615.5" y2="475.5" class="tickm"/>
<line x1="37.8" y1="468.9" x2="39.8" y2="468.9" class="tickm"/>
<line x1="617.5" y1="468.9" x2="615.5" y2="468.9" class="tickm"/>
<line x1="37.8" y1="462.4" x2="39.8" y2="462.4" class="tickm"/>
<line x1="617.5" y1="462.4" x2="615.5" y2="462.4" class="tickm"/>
<line x1="37.8" y1="455.8" x2="39.8" y2="455.8" class="tickm"/>
<line x1="617.5" y1="455.8" x2="615.5" y2="455.8" class="tickm"/>
<line x1="37.8" y1="449.2" x2="39.8" y2="449.2" class="tickm"/>
<line x1="617.5" y1="449.2" x2="615.5" y2="449.2" class="tickm"/>
<line x1="37.8" y1="442.7" x2="39.8" y2="442.7" class="tickm"/>
<line x1="617.5" y1="442.7" x2="615.5" y2="442.7" class="tickm"/>
<line x1="37.8" y1="436.1" x2="39.8" y2="436.1" class="tickm"/>
<line x1="617.5" y1="436.1" x2="615.5" y2="436.1" class="tickm"/>
<line x1="37.8" y1="429.6" x2="39.8" y2="429.6" class="tickm"/>
<line x1="617.5" y1="429.6" x2="615.5" y2="429.6" class="tickm"/>
<line x1="37.8" y1="423.0" x2="39.8" y2="423.0" class="tickm"/>
<line x1="617.5" y1="423.0" x2="615.5" y2="423.0" class="tickm"/>
<line x1="37.8" y1="416.4" x2="39.8" y2="416.4" class="tickm"/>
<line x1="617.5" y1="416.4" x2="615.5" y2="416.4" class="tickm"/>
<line x1="37.8" y1="409.9" x2="39.8" y2="409.9" class="tickm"/>
<line x1="617.5" y1="409.9" x2="615.5" y2="409.9" class="tickm"/>
<line x1="37.8" y1="403.3" x2="39.8" y2="403.3" class="tickm"/>
<line x1="617.5" y1="403.3" x2="615.5" y2="403.3" class="tickm"/>
<line x1="37.8" y1="396.8" x2="39.8" y2="396.8" class="tickm"/>
<line x1="617.5" y1="396.8" x2="615.5" y2="396.8" class="tickm"/>
<line x1="37.8" y1="390.2" x2="39.8" y2="390.2" class="tickm"/>
<line x1="617.5" y1="390.2" x2="615.5" y2="390.2" class="tickm"/>
<line x1="37.8" y1="383.6" x2="39.8" y2="383.6" class="tickm"/>
<line x1="617.5" y1="383.6" x2="615.5" y2="383.6" class="tickm"/>
<line x1="37.8" y1="377.1" x2="39.8" y2="377.1" class="tickm"/>
<line x1="617.5" y1="377.1" x2="615.5" y2="377.1" class="tickm"/>
<line x1="37.8" y1="370.5" x2="39.8" y2="370.5" class="tickm"/>
<line x1="617.5" y1="370.5" x2="615.5" y2="370.5" class="tickm"/>
<line x1="37.8" y1="363.9" x2="39.8" y2="363.9" class="tickm"/>
<line x1="617.5" y1="363.9" x2="615.5" y2="363.9" class="tickm"/>
<line x1="37.8" y1="357.4" x2="39.8" y2="357.4" class="tickm"/>
<line x1="617.5" y1="357.4" x2="615.5" y2="357.4" class="tickm"/>
<line x1="37.8" y1="350.8" x2="39.8" y2="350.8" class="tickm"/>
<line x1="617.5" y1="350.8" x2="615.5" y2="350.8" class="tickm"/>
<line x1="37.8" y1="344.2" x2="39.8" y2="344.2" class="tickm"/>
<line x1="617.5" y1="344.2" x2="615.5" y2="344.2" class="tickm"/>
<line x1="37.8" y1="337.7" x2="39.8" y2="337.7" class="tickm"/>
<line x1="617.5" y1="337.7" x2="615.5" y2="337.7" class="tickm"/>
<line x1="37.8" y1="331.1" x2="39.8" y2="331.1" class="tickm"/>
<line x1="617.5" y1="331.1" x2="615.5" y2="331.1" class="tickm"/>
<line x1="37.8" y1="324.6" x2="39.8" y2="324.6" class="tickm"/>
<line x1="617.5" y1="324.6" x2="615.5" y2="324.6" class="tickm"/>
<rect x="37.8" y="321.5" width="579.7" height="216.1" class="frame"/>
<text x="35.6" y="531.0" class="tl" text-anchor="end">0.0</text>
<text x="35.6" y="504.8" class="tl" text-anchor="end">0.2</text>
<text x="35.6" y="478.5" class="tl" text-anchor="end">0.4</text>
<text x="35.6" y="452.2" class="tl" text-anchor="end">0.6</text>
<text x="35.6" y="426.0" class="tl" text-anchor="end">0.8</text>
<text x="35.6" y="399.8" class="tl" text-anchor="end">1.0</text>
<text x="35.6" y="373.5" class="tl" text-anchor="end">1.2</text>
<text x="35.6" y="347.2" class="tl" text-anchor="end">1.4</text>
<text x="62.5" y="546.2" class="tl" text-anchor="middle">4000</text>
<text x="134.9" y="546.2" class="tl" text-anchor="middle">4200</text>
<text x="207.4" y="546.2" class="tl" text-anchor="middle">4400</text>
<text x="279.8" y="546.2" class="tl" text-anchor="middle">4600</text>
<text x="352.2" y="546.2" class="tl" text-anchor="middle">4800</text>
<text x="424.7" y="546.2" class="tl" text-anchor="middle">5000</text>
<text x="497.1" y="546.2" class="tl" text-anchor="middle">5200</text>
<text x="569.5" y="546.2" class="tl" text-anchor="middle">5400</text>
<text x="327.6" y="317.3" class="title" text-anchor="middle">Tolerance</text>
<text x="327.6" y="556.4" class="al" text-anchor="middle">time, seconds</text>
<text transform="translate(18.2,430) rotate(-90)" class="al" text-anchor="middle">Tolerance</text>
<text x="425" y="328.3" class="spk" text-anchor="middle">Spikes</text>
<rect x="40.2" y="324.6" width="107.3" height="48.8" rx="1.5" class="legend"/>
<line x1="44.7" y1="331.2" x2="60.1" y2="331.2" class="tol" style="stroke:#eee6a0"/>
<circle cx="51.8" cy="344.1" r="1.9" class="mk"/>
<line x1="44.7" y1="355.7" x2="60.1" y2="355.7" class="minleg"/>
<line x1="44.7" y1="366.7" x2="60.1" y2="366.7" class="maxleg"/>
<text x="65" y="334" class="lg">Tolerance</text>
<text x="65" y="346.9" class="lg">Above max. tolerance</text>
<text x="65" y="358.5" class="lg">Minimum</text>
<text x="65" y="369.5" class="lg">Maximum</text>
</g>
<rect x="6" y="6" width="616" height="42" fill="#000"/>
<rect x="6" y="564.3" width="616" height="36.4" fill="#000"/>
</svg></body></html>
